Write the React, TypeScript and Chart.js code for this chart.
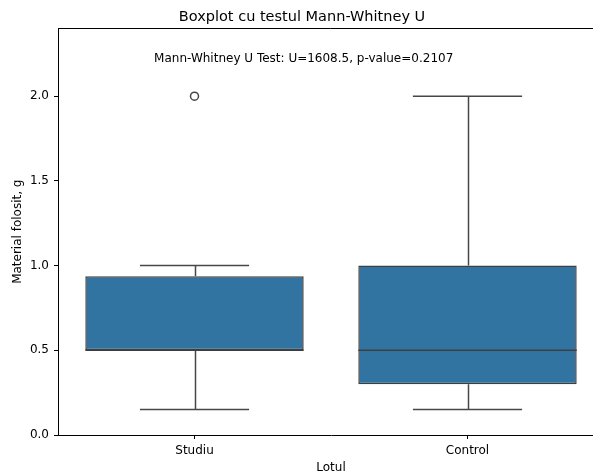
import React, { useEffect, useRef } from 'react';
import { Chart, registerables } from 'chart.js';

Chart.register(...registerables);

// ---- data ----
const categories = ['Studiu', 'Control'];
const q1 = [0.5, 0.3];
const q3 = [0.9375, 1.0];
const medians = [0.5, 0.5];
const whiskerLow = [0.15, 0.15];
const whiskerHigh = [1.0, 2.0];
const outliers: (number | null)[] = [2.0, null];
const yTicks = [0, 0.5, 1.0, 1.5, 2.0];
const yMax = 2.4;
const titleText = 'Boxplot cu testul Mann-Whitney U';
const annotationText = 'Mann-Whitney U Test: U=1608.5, p-value=0.2107';
const annotationX = 0.4;
const annotationY = 2.2;
const xTitle = 'Lotul';
const yTitle = 'Material folosit, g';

const FONT = "'DejaVu Sans', sans-serif";
const BOX_COLOR = '#3274a1';
const LINE_COLOR = '#474747';

const boxPlugin = {
  id: 'boxExtras',
  beforeDatasetsDraw(chart: any) {
    const { ctx, scales } = chart;
    const x = scales.x;
    const y = scales.y;
    ctx.save();
    ctx.strokeStyle = LINE_COLOR;
    ctx.lineWidth = 1.5;
    categories.forEach((_, i) => {
      const cx = Math.round(x.getPixelForValue(i)) + 0.5;
      const capL = x.getPixelForValue(i - 0.2);
      const capR = x.getPixelForValue(i + 0.2);
      const yLo = y.getPixelForValue(whiskerLow[i]);
      const yHi = y.getPixelForValue(whiskerHigh[i]);
      const yQ1 = y.getPixelForValue(q1[i]);
      const yQ3 = y.getPixelForValue(q3[i]);
      ctx.beginPath();
      ctx.moveTo(cx, yQ1);
      ctx.lineTo(cx, yLo);
      ctx.moveTo(cx, yQ3);
      ctx.lineTo(cx, yHi);
      ctx.moveTo(capL, yLo);
      ctx.lineTo(capR, yLo);
      ctx.moveTo(capL, yHi);
      ctx.lineTo(capR, yHi);
      ctx.stroke();
    });
    ctx.restore();
  },
  afterDatasetsDraw(chart: any) {
    const { ctx, scales, chartArea } = chart;
    const x = scales.x;
    const y = scales.y;
    ctx.save();
    ctx.strokeStyle = '#3f3f3f';
    ctx.lineWidth = 1.5;
    categories.forEach((_, i) => {
      const l = x.getPixelForValue(i - 0.4);
      const r = x.getPixelForValue(i + 0.4);
      const ym = y.getPixelForValue(medians[i]);
      ctx.beginPath();
      ctx.moveTo(l, ym);
      ctx.lineTo(r, ym);
      ctx.stroke();
    });
    // top & right spines
    ctx.strokeStyle = '#000';
    ctx.lineWidth = 1;
    ctx.beginPath();
    const t = Math.round(chartArea.top) + 0.5;
    const rr = Math.round(chartArea.right) - 0.5;
    ctx.moveTo(chartArea.left, t);
    ctx.lineTo(rr, t);
    ctx.lineTo(rr, chartArea.bottom);
    ctx.stroke();
    // annotation
    ctx.fillStyle = '#000';
    ctx.font = `12px ${FONT}`;
    ctx.textAlign = 'center';
    ctx.textBaseline = 'alphabetic';
    ctx.fillText(annotationText, x.getPixelForValue(annotationX), y.getPixelForValue(annotationY));
    ctx.restore();
  },
};

export default function App() {
  const ref = useRef<HTMLCanvasElement>(null);
  useEffect(() => {
    if (!ref.current) return;
    const chart = new Chart(ref.current, {
      type: 'bar',
      data: {
        labels: categories,
        datasets: [
          {
            type: 'bar',
            data: categories.map((_, i) => [q1[i], q3[i]]) as any,
            backgroundColor: BOX_COLOR,
            borderColor: '#3f3f3f',
            borderWidth: 1.5,
            borderSkipped: false,
            barPercentage: 0.8,
            categoryPercentage: 1,
          },
          {
            type: 'line',
            data: outliers as any,
            showLine: false,
            pointRadius: 4,
            pointBackgroundColor: 'rgba(0,0,0,0)',
            pointBorderColor: LINE_COLOR,
            pointBorderWidth: 1.5,
          } as any,
        ],
      },
      options: {
        animation: false,
        responsive: false,
        layout: { padding: 0, autoPadding: false },
        plugins: {
          legend: { display: false },
          tooltip: { enabled: false },
          title: {
            display: true,
            text: titleText,
            color: '#000',
            font: { family: FONT, size: 14.5, weight: 'normal' },
            padding: { top: 9, bottom: 2 },
          },
        },
        scales: {
          x: {
            offset: true,
            grid: {
              offset: false,
              drawOnChartArea: false,
              drawTicks: true,
              tickLength: 4,
              tickColor: '#000',
            },
            border: { color: '#000', width: 1 },
            ticks: { color: '#000', font: { family: FONT, size: 12 }, padding: 5 },
            title: {
              display: true,
              text: xTitle,
              color: '#000',
              font: { family: FONT, size: 12 },
              padding: { top: 0, bottom: 0 },
            },
            afterFit: (s: any) => {
              s.height = 40;
            },
          },
          y: {
            min: 0,
            max: yMax,
            grid: {
              drawOnChartArea: false,
              drawTicks: true,
              tickLength: 4,
              tickColor: '#000',
            },
            border: { color: '#000', width: 1 },
            ticks: {
              color: '#000',
              font: { family: FONT, size: 12 },
              padding: 5,
              callback: (v: any) => Number(v).toFixed(1),
            },
            afterBuildTicks: (s: any) => {
              s.ticks = yTicks.map((v) => ({ value: v }));
            },
            title: {
              display: true,
              text: yTitle,
              color: '#000',
              font: { family: FONT, size: 12 },
              padding: { top: 11, bottom: 0 },
            },
            afterFit: (s: any) => {
              s.width = 58;
            },
          },
        },
      },
      plugins: [boxPlugin],
    });
    return () => chart.destroy();
  }, []);
  return (
    <div
      style={{
        position: 'fixed',
        left: 0,
        top: 0,
        width: 593,
        height: 475,
        overflow: 'hidden',
        background: '#fff',
      }}
    >
      <div style={{ width: 604, height: 475 }}>
        <canvas ref={ref} width={604} height={475} style={{ display: 'block', width: 604, height: 475 }} />
      </div>
    </div>
  );
}
